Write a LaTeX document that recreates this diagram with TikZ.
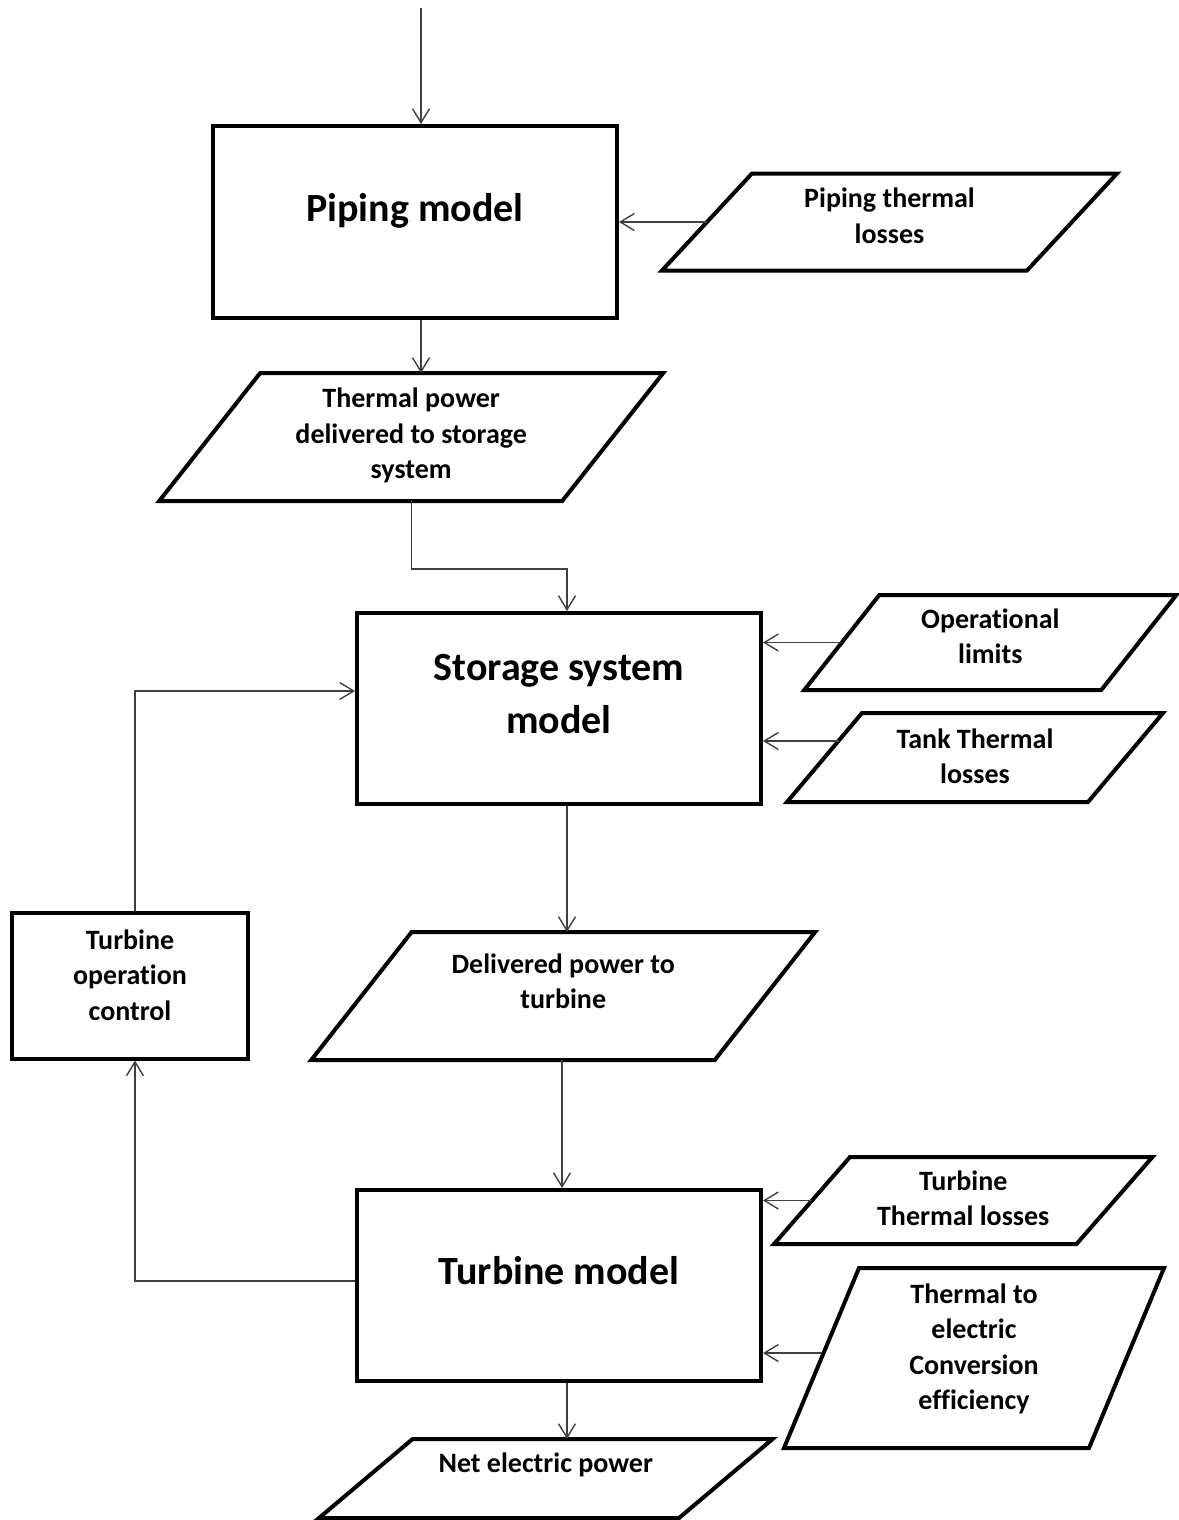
\documentclass[tikz,border=0pt]{standalone}
\usepackage{fontspec}
\setmainfont{Carlito}[Ligatures=NoCommon]
\usetikzlibrary{arrows.meta,positioning,calc}

\begin{document}
\begin{tikzpicture}[
    node distance=40pt,
    block/.style={rectangle, draw=black, line width=2pt, fill=white, align=center, minimum width=202pt, minimum height=95.5pt, font=\fontsize{20pt}{26.5pt}\selectfont\bfseries, text depth=15pt},
    data/.style={rectangle, draw=none, outer sep=0pt, inner sep=0pt, align=center, font=\fontsize{14pt}{17.75pt}\selectfont\bfseries},
    frame/.style={draw=black, line width=2pt},
    arr/.style={-{Straight Barb[length=7pt,width=8.5pt]}, line width=0.7pt, draw=black!75}
]
    \useasboundingbox (0,0) rectangle (589pt,-760pt);

    % Piping
    \node (pipe) [block, minimum height=96pt] at (207.5pt,-111pt) {Piping model};
    \node (ploss) [data, minimum width=182.5pt, minimum height=48.5pt, text depth=6.25pt, right=44pt of pipe] {Piping thermal\\losses};
    \node (thp) [data, minimum width=201.5pt, minimum height=64pt, text depth=3.5pt, below=26.5pt of pipe, xshift=-1.9pt] {Thermal power\\delivered to storage\\system};

    % Storage
    \node (store) [block, below=55pt of thp, xshift=73.9pt] {Storage system\\model};
    \node (oplim) [data, minimum width=148.5pt, minimum height=47.5pt, text depth=6.25pt, right=39.4pt of store, yshift=33pt] {Operational\\limits};
    \node (tank) [data, minimum width=150.5pt, minimum height=44.5pt, text depth=1.25pt, right=30.75pt of store, yshift=-24.5pt] {Tank Thermal\\losses};
    \node (deliv) [data, minimum width=201.75pt, minimum height=64pt, text depth=14.75pt, below=63pt of store, xshift=2.1pt] {Delivered power to\\turbine};

    % Turbine
    \node (turb) [block, below=64pt of deliv, xshift=-2.1pt] {Turbine model};
    \node (tloss) [data, minimum width=151.25pt, minimum height=43.5pt, text depth=2.25pt, right=24.5pt of turb, yshift=42.5pt] {Turbine\\Thermal losses};
    \node (conv) [data, minimum width=152.5pt, minimum height=90pt, text depth=11.25pt, right=29.25pt of turb, yshift=-36.25pt] {Thermal to\\electric\\Conversion\\efficiency};
    \node (net) [data, minimum width=180pt, minimum height=39.5pt, text depth=15.5pt, below=28pt of turb, xshift=-6.6pt] {Net electric power};
    \node (ctrl) [block, minimum width=118pt, minimum height=73pt, font=\fontsize{14pt}{17.75pt}\selectfont\bfseries, text depth=10.5pt, left=52.5pt of store, yshift=-138.5pt] {Turbine\\operation\\control};

    % Data frames
    \foreach \n/\s in {ploss/22.5pt, thp/25.25pt, oplim/18.75pt, tank/18.75pt, deliv/25.1pt, tloss/19pt, conv/18.75pt, net/23.4pt}
        \draw [frame] ([xshift=\s]\n.north west) -- ([xshift=\s]\n.north east) -- ([xshift=-\s]\n.south east) -- ([xshift=-\s]\n.south west) -- cycle;

    % Connectors
    \coordinate (start) at ([xshift=3pt]pipe.north |- 0,-4pt);
    \draw [arr] (start) -- (start |- pipe.north);
    \draw [arr] ([xshift=3pt]pipe.south) -- ([xshift=3pt]pipe.south |- thp.north);
    \draw [arr] (ploss.west) -- (ploss.west -| pipe.east);
    \draw [arr] (thp.south) -- ++(0,-34pt) -| ([xshift=4pt]store.north);
    \draw [arr] (oplim.west) -- (oplim.west -| store.east);
    \draw [arr] ([xshift=7pt,yshift=8.25pt]tank.west) -- ([yshift=8.25pt]tank.west -| store.east);
    \draw [arr] ([xshift=4pt]store.south) -- ([xshift=4pt]store.south |- deliv.north);
    \draw [arr] ([xshift=-0.6pt]deliv.south) -- ([xshift=-0.6pt]deliv.south |- turb.north);
    \draw [arr] (tloss.west) -- (tloss.west -| turb.east);
    \draw [arr] ([yshift=2.5pt]conv.west) -- ([yshift=2.5pt]conv.west -| turb.east);
    \draw [arr] ([xshift=4pt]turb.south) -- ([xshift=4pt]turb.south |- net.north);
    \draw [arr] ([yshift=2.25pt]turb.west) -| ([xshift=2.5pt]ctrl.south);
    \draw [arr] ([xshift=2.5pt]ctrl.north) |- ([yshift=8.75pt]store.west);
\end{tikzpicture}
\end{document}
